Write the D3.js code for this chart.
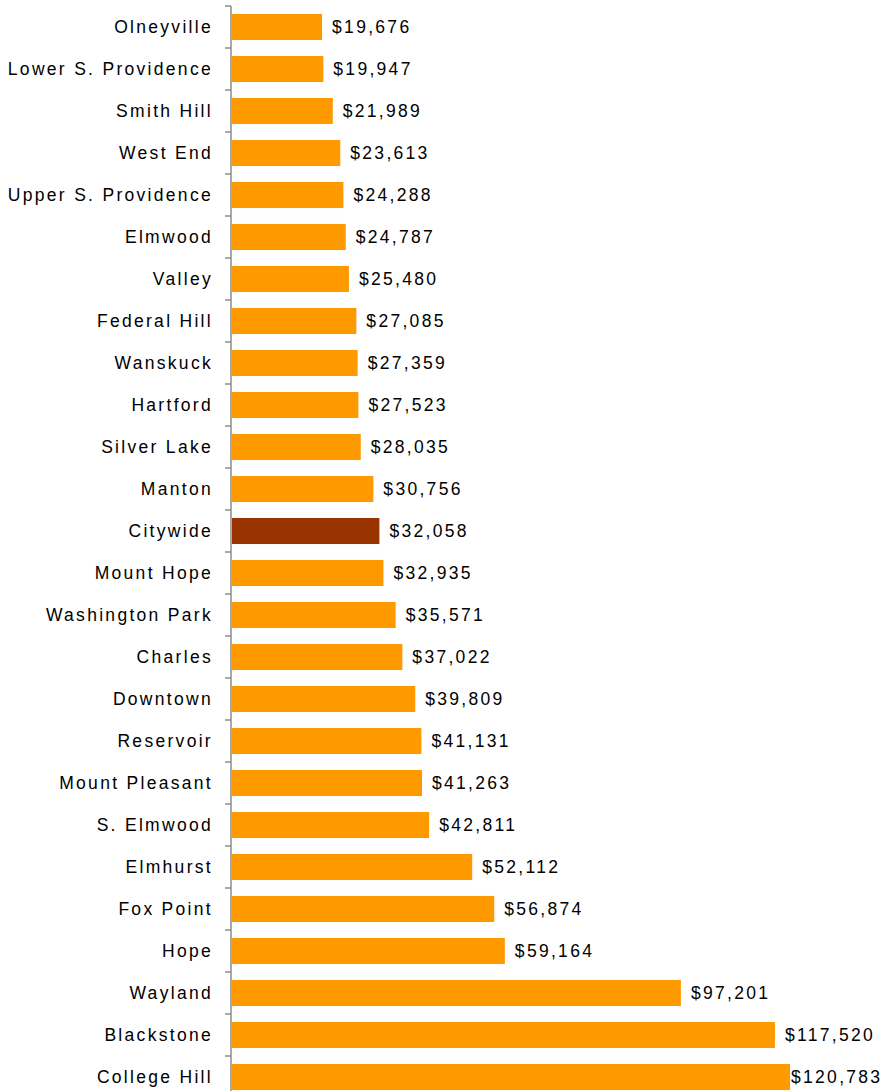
<!DOCTYPE html>
<html>
<head>
<meta charset="utf-8">
<script src="https://cdn.jsdelivr.net/npm/d3@7"></script>
<style>
  body { margin: 0; background: #fff; }
  text { font-family: "Liberation Sans", Arial, sans-serif; font-size: 17.5px; letter-spacing: 2.3px; fill: #000; }
</style>
</head>
<body>
<svg id="chart"></svg>
<script>
const width = 883;
const height = 1091;

// neighborhoods, top to bottom
const neighborhoods = [
    "Olneyville", "Lower S. Providence", "Smith Hill", "West End", "Upper S. Providence",
    "Elmwood", "Valley", "Federal Hill", "Wanskuck", "Hartford", "Silver Lake", "Manton",
    "Citywide", "Mount Hope", "Washington Park", "Charles", "Downtown", "Reservoir",
    "Mount Pleasant", "S. Elmwood", "Elmhurst", "Fox Point", "Hope", "Wayland",
    "Blackstone", "College Hill"
];
const incomes = [
    19676, 19947, 21989, 23613, 24288, 24787, 25480, 27085, 27359, 27523, 28035, 30756,
    32058, 32935, 35571, 37022, 39809, 41131, 41263, 42811, 52112, 56874, 59164, 97201,
    117520, 120783
];
const highlight = "Citywide";
const xMax = 140000;

const svg = d3.select("#chart")
    .attr("width", width)
    .attr("height", height);

const x = d3.scaleLinear().domain([0, xMax]).range([231, 879]);
const y = d3.scaleBand()
    .domain(neighborhoods)
    .range([6, 6 + 42 * neighborhoods.length])
    .paddingInner(0.38)
    .paddingOuter(0.19);

const step = y.step();
const bounds = neighborhoods.map(d => y(d) - step * 0.19).concat([y.range()[1]]);

// axis line + tick marks between categories
const axis = svg.append("g").attr("stroke", "#8c8c8c").attr("stroke-width", 1.5);
axis.append("line")
    .attr("x1", x(0)).attr("x2", x(0))
    .attr("y1", y.range()[0]).attr("y2", y.range()[1]);
axis.selectAll("line.tick")
    .data(bounds)
    .enter().append("line")
    .attr("class", "tick")
    .attr("x1", x(0) - 6).attr("x2", x(0))
    .attr("y1", d => d).attr("y2", d => d);

const data = neighborhoods.map((n, i) => ({name: n, value: incomes[i]}));

svg.append("g")
    .selectAll("rect")
    .data(data)
    .enter().append("rect")
    .attr("x", x(0) + 1)
    .attr("y", d => y(d.name))
    .attr("width", d => x(d.value) - x(0) - 1)
    .attr("height", y.bandwidth())
    .attr("fill", d => d.name === highlight ? "#993300" : "#ff9900");

// category labels
svg.append("g")
    .selectAll("text")
    .data(data)
    .enter().append("text")
    .attr("x", x(0) - 18)
    .attr("y", d => y(d.name) + y.bandwidth() / 2)
    .attr("dy", "0.35em")
    .attr("text-anchor", "end")
    .text(d => d.name);

// value labels
const fmt = d3.format(",");
svg.append("g")
    .selectAll("text")
    .data(data)
    .enter().append("text")
    .attr("x", d => Math.min(x(d.value) + 10, width - 92))
    .attr("y", d => y(d.name) + y.bandwidth() / 2)
    .attr("dy", "0.35em")
    .text(d => "$" + fmt(d.value));
</script>
</body>
</html>
